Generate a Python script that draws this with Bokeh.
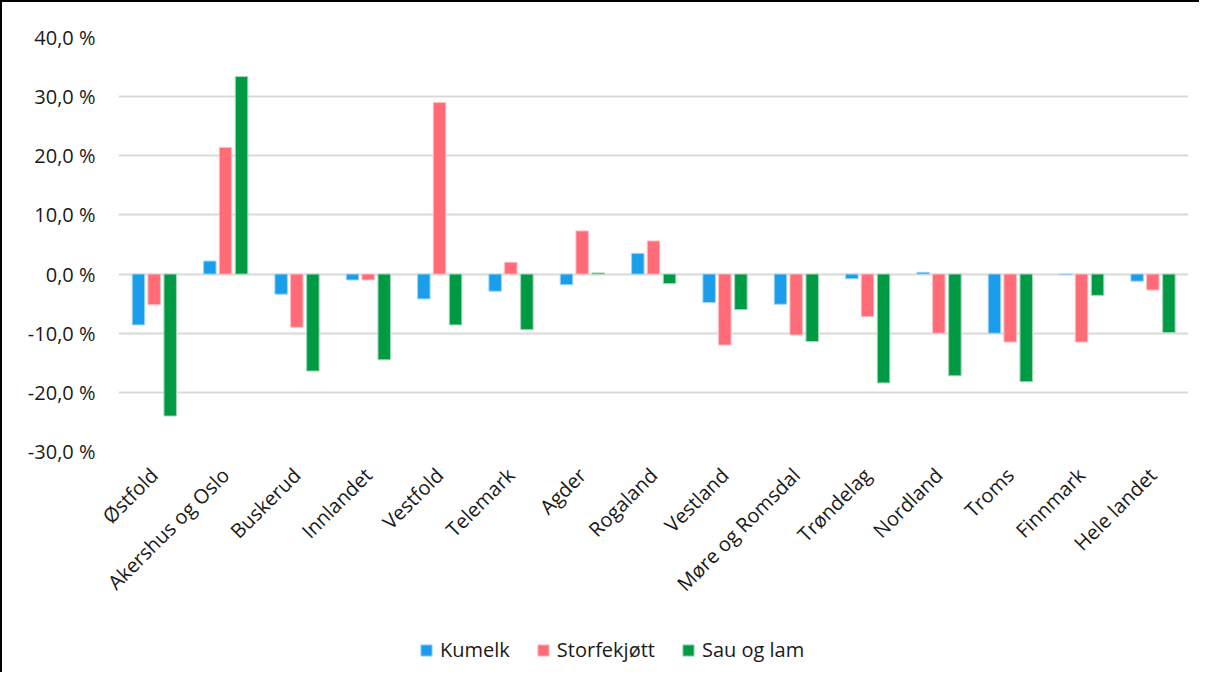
from bokeh.plotting import figure
from bokeh.layouts import column
from bokeh.models import FactorRange, Range1d, Legend, LegendItem, CustomJSTickFormatter, ColumnDataSource
from bokeh.transform import dodge
from bokeh.embed import file_html
from bokeh.resources import INLINE
import math

regions = ["Østfold", "Akershus og Oslo", "Buskerud", "Innlandet", "Vestfold", "Telemark", "Agder",
           "Rogaland", "Vestland", "Møre og Romsdal", "Trøndelag", "Nordland", "Troms", "Finnmark", "Hele landet"]
kumelk = [-8.6, 2.2, -3.4, -1.0, -4.2, -2.9, -1.8, 3.5, -4.8, -5.1, -0.8, 0.3, -10.0, -0.1, -1.2]
storfekjott = [-5.2, 21.4, -9.0, -1.0, 29.0, 2.0, 7.3, 5.6, -12.0, -10.3, -7.2, -10.0, -11.5, -11.5, -2.7]
sau_og_lam = [-24.0, 33.4, -16.4, -14.5, -8.6, -9.4, 0.2, -1.6, -6.0, -11.4, -18.4, -17.2, -18.2, -3.6, -9.9]
series_names = ["Kumelk", "Storfekjøtt", "Sau og lam"]
y_ticks = [-30, -20, -10, 0, 10, 20, 30, 40]
colors = ["#1A9DEB", "#FF6B77", "#009A44"]
edge_colors = ["#9fd4f5", "#ffc0c5", "#9fd8b5"]

src = ColumnDataSource(dict(x=regions, k=kumelk, s=storfekjott, l=sau_og_lam))

FONT = "Open Sans"
FS = "20px"
TXT = "#1a1a1a"
w = 0.175
offsets = [-0.22, 0.0, 0.225]
cols = ["k", "s", "l"]

# ---- main chart ----
p = figure(width=1197, height=607, x_range=FactorRange(*regions), y_range=Range1d(min(y_ticks), max(y_ticks)),
           output_backend="svg", toolbar_location=None,
           min_border_left=116, min_border_top=35, min_border_right=11, min_border_bottom=157)
p.outline_line_color = None
p.background_fill_color = "white"

for col_name, off, c, ec in zip(cols, offsets, colors, edge_colors):
    p.vbar(x=dodge("x", off, range=p.x_range), top=col_name, bottom=0, width=w, source=src,
           fill_color=c, line_color=ec, line_width=1)

p.yaxis.ticker = y_ticks
p.yaxis.formatter = CustomJSTickFormatter(code="return tick.toFixed(1).replace('.', ',') + ' %';")
p.yaxis.axis_line_color = None
p.yaxis.major_tick_line_color = None
p.yaxis.minor_tick_line_color = None
p.yaxis.major_label_text_font = FONT
p.yaxis.major_label_text_font_size = FS
p.yaxis.major_label_text_color = TXT
p.yaxis.major_label_standoff = 17

p.xaxis.axis_line_color = None
p.xaxis.major_tick_line_color = None
p.xaxis.minor_tick_line_color = None
p.xaxis.major_label_orientation = math.pi / 4
p.xaxis.major_label_text_font = FONT
p.xaxis.major_label_text_font_size = FS
p.xaxis.major_label_text_color = TXT
p.xaxis.major_label_standoff = 14

p.xgrid.grid_line_color = None
p.ygrid.grid_line_color = "#D9D9D9"
p.ygrid.grid_line_width = 2

# ---- legend strip (same series, drawn out of view so only the legend shows) ----
p2 = figure(width=1197, height=63, x_range=p.x_range, y_range=Range1d(100, 101),
            output_backend="svg", toolbar_location=None, x_axis_location=None, y_axis_location=None,
            min_border_left=116, min_border_top=0, min_border_right=11, min_border_bottom=0)
p2.outline_line_color = None
p2.grid.grid_line_color = None
items = []
for name, col_name, off, c, ec in zip(series_names, cols, offsets, colors, edge_colors):
    r = p2.vbar(x=dodge("x", off, range=p2.x_range), top=col_name, bottom=0, width=w, source=src,
                fill_color=c, line_color=ec, line_width=1)
    items.append(LegendItem(label=name, renderers=[r]))

legend = Legend(items=items, orientation="horizontal", location=(301, 9), margin=0, padding=6,
                label_text_font=FONT, label_text_font_size=FS, label_text_color=TXT,
                glyph_width=14, glyph_height=14, spacing=26, label_standoff=7,
                border_line_color=None, background_fill_alpha=0)
p2.add_layout(legend, "center")

layout = column(p, p2, spacing=0)
layout.styles = {"border-left": "2px solid black", "border-top": "2px solid black"}

open("out.html", "w").write(file_html(layout, INLINE))
